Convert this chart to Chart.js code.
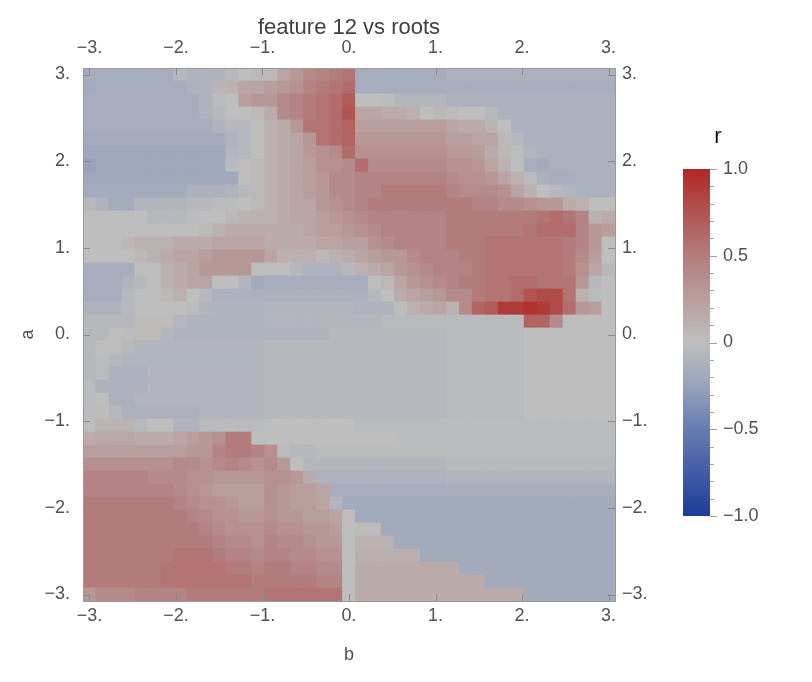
<!DOCTYPE html>
<html><head><meta charset="utf-8">
<script src="https://cdn.jsdelivr.net/npm/chart.js@4.4.1/dist/chart.umd.min.js"></script>
<style>html,body{margin:0;padding:0;background:#fff}#wrap{position:relative;width:812px;height:682px}canvas{display:block}</style>
</head><body><div id="wrap"><canvas id="c" width="812" height="682"></canvas></div>
<script>
// grid centres (b along x, a along y from top to bottom)
const bCenters = [-3,-2.85,-2.7,-2.55,-2.4,-2.25,-2.1,-1.95,-1.8,-1.65,-1.5,-1.35,-1.2,-1.05,-0.9,-0.75,-0.6,-0.45,-0.3,-0.15,0,0.15,0.3,0.45,0.6,0.75,0.9,1.05,1.2,1.35,1.5,1.65,1.8,1.95,2.1,2.25,2.4,2.55,2.7,2.85,3];
const aCenters = [3,2.85,2.7,2.55,2.4,2.25,2.1,1.95,1.8,1.65,1.5,1.35,1.2,1.05,0.9,0.75,0.6,0.45,0.3,0.15,0,-0.15,-0.3,-0.45,-0.6,-0.75,-0.9,-1.05,-1.2,-1.35,-1.5,-1.65,-1.8,-1.95,-2.1,-2.25,-2.4,-2.55,-2.7,-2.85,-3];

// r values, one row per a (top row a = 3), columns b = -3 .. 3
const row00 = [-.15,-.15,-.15,-.15,-.15,-.15,-.15,-.05,-.1,-.1,-.1,-.05,0,.05, .05,.2,.3,.4,.45,.5,.55,-.15,-.15,-.15,-.15,-.15,-.15,-.15, -.12,-.12,-.12,-.12,-.12,-.12,-.12,-.12,-.12,-.12,-.12,-.12,-.12];
const row01 = [-.17,-.15,-.15,-.15,-.15,-.15,-.15,-.15,-.12,-.1,.08,.1,.2,.2, .25,.3,.35,.45,.5,.55,.6,-.15,-.15,-.15,-.15,-.15,-.15,-.15, -.15,-.15,-.15,-.15,-.15,-.15,-.15,-.15,-.15,-.15,-.15,-.15,-.15];
const row02 = [-.15,-.15,-.15,-.15,-.15,-.15,-.15,-.15,-.15,-.1,-.03,0,.25,.3, .3,.4,.45,.5,.55,.6,.7,0,0,-.02,-.07,-.07,-.07,-.07, -.12,-.12,-.12,-.12,-.12,-.12,-.12,-.12,-.12,-.12,-.12,-.12,-.12];
const row03 = [-.15,-.15,-.15,-.15,-.15,-.15,-.15,-.15,-.15,-.1,-.05,0,0,.05, .15,.4,.45,.5,.55,.6,.75,.2,.2,.15,.15,.1,0,.05, .03,0,0,-.05,-.12,-.12,-.12,-.12,-.12,-.12,-.12,-.12,-.12];
const row04 = [-.15,-.15,-.15,-.15,-.15,-.15,-.15,-.15,-.15,-.15,-.1,-.05,-.05,0, .1,.15,.3,.55,.55,.6,.65,.25,.25,.25,.25,.25,.25,.25, .2,.15,.15,.08,0,-.12,-.12,-.12,-.12,-.12,-.12,-.12,-.12];
const row05 = [-.17,-.17,-.17,-.17,-.17,-.17,-.17,-.17,-.17,-.17,-.17,-.1,-.05,0, .1,.15,.2,.3,.55,.6,.65,.3,.3,.3,.3,.3,.3,.3, .25,.25,.2,.2,.05,-.05,-.12,-.12,-.12,-.12,-.12,-.12,-.12];
const row06 = [-.2,-.2,-.2,-.2,-.2,-.2,-.2,-.2,-.2,-.2,-.2,-.07,-.05,0, .1,.15,.2,.3,.35,.4,.6,.35,.35,.35,.35,.35,.35,.35, .3,.3,.25,.15,.05,0,-.08,-.12,-.12,-.12,-.12,-.12,-.12];
const row07 = [-.25,-.2,-.2,-.2,-.2,-.2,-.2,-.2,-.2,-.2,-.2,-.03,0,.05, .1,.15,.2,.25,.35,.35,.4,.6,.4,.4,.4,.4,.4,.4, .35,.35,.3,.2,.1,0,-.15,-.18,-.12,-.12,-.12,-.12,-.12];
const row08 = [-.2,-.2,-.2,-.2,-.2,-.2,-.2,-.2,-.2,-.2,-.2,-.2,0,.05, .1,.15,.2,.25,.3,.4,.4,.45,.45,.45,.45,.45,.45,.45, .4,.35,.35,.3,.2,.1,-.03,-.12,-.15,-.15,-.12,-.12,-.12];
const row09 = [-.17,-.17,-.17,-.17,-.17,-.17,-.17,-.17,-.12,-.12,-.12,-.1,-.05,.05, .1,.15,.2,.25,.3,.4,.4,.45,.45,.5,.5,.5,.5,.5, .45,.4,.4,.4,.35,.2,.1,0,-.05,-.08,-.12,-.12,-.12];
const row10 = [-.05,-.1,-.17,-.17,-.08,-.08,-.08,-.08,-.05,-.05,-.02,-.02,0,.05, .1,.15,.2,.2,.3,.35,.4,.45,.5,.5,.5,.5,.5,.5, .5,.5,.45,.45,.4,.4,.35,.3,.3,.15,.1,0,0];
const row11 = [0,0,0,0,0,-.05,-.05,-.05,-.02,0,0,.05,.08,.1, .1,.15,.2,.2,.25,.3,.35,.4,.45,.45,.45,.45,.45,.45, .5,.5,.5,.5,.5,.5,.5,.55,.6,.55,.45,.1,.15];
const row12 = [0,0,0,0,0,0,0,0,0,.05,.1,.15,.15,.15, .15,.15,.15,.2,.25,.25,.3,.35,.4,.45,.45,.45,.45,.45, .5,.5,.5,.5,.5,.5,.55,.6,.6,.6,.45,.3,.25];
const row13 = [0,0,0,.05,.1,.1,.1,.15,.15,.15,.2,.2,.2,.2, .15,.15,.15,.15,.2,.2,.25,.25,.35,.4,.45,.45,.45,.45, .5,.5,.5,.55,.55,.55,.55,.55,.55,.5,.45,.3,0];
const row14 = [0,0,0,0,.05,.1,.15,.2,.2,.25,.3,.3,.3,.3, .2,.1,.1,.1,.05,.1,.15,.2,.25,.3,.3,.4,.45,.45, .45,.5,.5,.55,.55,.55,.55,.55,.55,.5,.4,.25,0];
const row15 = [-.15,-.15,-.15,-.15,0,0,.1,.15,.2,.3,.3,.3,.3,0, 0,0,-.05,-.1,-.1,-.1,-.05,.1,.15,.2,.3,.35,.4,.45, .45,.45,.5,.55,.55,.55,.55,.55,.55,.5,.35,.2,-.05];
const row16 = [-.15,-.15,-.15,-.1,-.05,0,.1,.15,.2,.2,0,0,-.08,-.18, -.15,-.15,-.15,-.15,-.15,-.15,-.15,-.15,0,.05,.2,.3,.35,.4, .45,.5,.5,.55,.55,.6,.6,.55,.55,.55,.3,-.05,0];
const row17 = [-.15,-.15,-.15,-.05,0,0,.05,.1,0,-.05,-.12,-.12,-.12,-.12, -.12,-.12,-.12,-.12,-.12,-.12,-.12,-.12,-.05,0,.15,.2,.25,.3, .4,.4,.5,.55,.55,.6,.75,.8,.8,.55,.1,-.03,0];
const row18 = [-.1,-.1,-.1,-.05,0,0,0,0,-.03,-.08,-.1,-.1,-.1,-.1, -.08,-.08,-.08,-.08,-.08,-.08,-.08,-.1,-.1,-.1,-.02,.1,.15,.2, .1,.4,.65,.7,.9,.9,.95,.9,.8,.6,.3,.25,0];
const row19 = [-.05,-.05,-.05,-.05,.02,.02,.02,-.05,-.1,-.1,-.1,-.1,-.1,-.1, -.07,-.07,-.07,-.07,-.07,-.07,-.07,-.07,-.07,-.04,-.04,-.04,-.04,-.04, -.04,-.04,-.04,-.04,-.04,-.04,.65,.65,.4,0,0,0,0];
const row20 = [-.05,-.05,0,.02,.02,.02,-.07,-.1,-.1,-.1,-.1,-.1,-.1,-.1, -.1,-.1,-.1,-.1,-.1,-.05,-.05,-.05,-.05,-.05,-.05,-.05,-.05,-.05, -.04,-.04,-.04,-.04,-.04,-.04,0,0,0,0,0,0,0];
const row21 = [-.05,0,0,-.05,-.08,-.08,-.08,-.08,-.08,-.08,-.08,-.08,-.08,-.08, -.05,-.05,-.05,-.05,-.05,-.05,-.05,-.05,-.05,-.05,-.05,-.05,-.05,-.05, -.04,-.04,-.04,-.04,-.04,-.04,0,0,0,0,0,0,0];
const row22 = [-.05,-.02,-.07,-.09,-.09,-.09,-.09,-.09,-.09,-.09,-.09,-.09,-.09,-.09, -.05,-.05,-.05,-.05,-.05,-.05,-.05,-.05,-.05,-.05,-.05,-.05,-.05,-.05, -.04,-.04,-.04,-.04,-.04,-.04,0,0,0,0,0,0,0];
const row23 = [-.05,-.03,-.12,-.12,-.12,-.08,-.08,-.08,-.08,-.08,-.08,-.08,-.08,-.08, -.05,-.05,-.05,-.05,-.05,-.05,-.05,-.05,-.05,-.05,-.05,-.05,-.05,-.05, -.04,-.04,-.04,-.04,-.04,-.04,0,0,0,0,0,0,0];
const row24 = [-.03,-.12,-.12,-.12,-.12,-.08,-.08,-.08,-.08,-.08,-.08,-.08,-.08,-.08, -.05,-.05,-.05,-.05,-.05,-.05,-.05,-.05,-.05,-.05,-.05,-.05,-.05,-.05, -.04,-.04,-.04,-.04,-.04,-.04,0,0,0,0,0,0,0];
const row25 = [-.03,0,-.12,-.12,-.08,-.08,-.08,-.08,-.08,-.08,-.08,-.08,-.08,-.08, -.05,-.05,-.05,-.05,-.05,-.05,-.05,-.05,-.05,-.05,-.05,-.05,-.05,-.05, -.04,-.04,-.04,-.04,-.04,-.04,0,0,0,0,0,0,0];
const row26 = [-.02,.02,-.05,-.12,-.12,-.12,-.12,-.12,-.12,-.08,-.08,-.08,-.08,-.08, -.05,-.05,-.05,-.05,-.05,-.05,-.05,-.05,-.05,-.05,-.05,-.05,-.05,-.05, -.04,-.04,-.04,-.04,-.04,-.04,0,0,0,0,0,0,0];
const row27 = [0,.08,.08,.08,-.05,0,0,-.1,-.1,-.03,-.03,-.03,-.03,-.03, 0,0,0,0,0,0,0,-.03,-.03,-.03,-.03,-.03,-.03,-.03, -.03,-.03,-.03,-.03,-.03,-.03,-.03,-.03,-.03,-.03,-.03,-.03,-.03];
const row28 = [.15,.18,.18,.18,.15,.15,.15,.2,.25,.3,.35,.5,.5,0, 0,0,0,0,0,0,0,0,0,0,-.02,-.02,-.02,-.02, -.03,-.03,-.03,-.03,-.03,-.03,-.03,-.03,-.03,-.03,-.03,-.03,-.03];
const row29 = [.25,.25,.25,.25,.25,.25,.25,.25,.3,.3,.45,.5,.5,.45, .35,-.03,-.05,-.05,-.02,-.02,-.02,-.02,-.02,-.02,-.02,-.02,-.02,-.02, -.03,-.03,-.03,-.03,-.03,-.03,-.03,-.03,-.03,-.03,-.03,-.03,-.03];
const row30 = [.35,.35,.35,.35,.35,.35,.35,.4,.4,.35,.4,.45,.4,.35, .4,.3,0,-.07,-.07,-.07,-.07,-.07,-.07,-.07,-.07,-.07,-.07,-.07, -.05,-.05,-.05,-.05,-.05,-.05,-.05,-.05,-.05,-.05,-.05,-.05,-.05];
const row31 = [.45,.45,.45,.45,.45,.4,.4,.4,.35,.35,.3,.3,.3,.3, .35,.35,.3,.15,-.1,-.1,-.1,-.1,-.1,-.1,-.1,-.1,-.1,-.1, -.08,-.08,-.08,-.08,-.08,-.08,-.08,-.08,-.08,-.08,-.08,-.08,-.08];
const row32 = [.45,.45,.45,.45,.45,.45,.45,.4,.35,.3,.25,.25,.25,.25, .35,.3,.25,.25,.2,-.15,-.15,-.15,-.15,-.15,-.15,-.15,-.15,-.15, -.14,-.14,-.14,-.14,-.14,-.14,-.14,-.14,-.14,-.14,-.14,-.14,-.14];
const row33 = [.5,.5,.5,.5,.5,.5,.5,.45,.4,.35,.35,.3,.25,.25, .35,.3,.25,.25,.2,-.08,-.18,-.18,-.18,-.18,-.18,-.18,-.18,-.18, -.18,-.18,-.18,-.18,-.18,-.18,-.18,-.18,-.18,-.18,-.18,-.18,-.18];
const row34 = [.5,.5,.5,.5,.5,.5,.5,.5,.45,.4,.35,.35,.3,.3, .35,.3,.3,.25,.25,.2,0,-.18,-.18,-.18,-.18,-.18,-.18,-.18, -.18,-.18,-.18,-.18,-.18,-.18,-.18,-.18,-.18,-.18,-.18,-.18,-.18];
const row35 = [.5,.5,.5,.5,.5,.5,.5,.5,.5,.45,.4,.35,.35,.35, .4,.35,.35,.3,.3,.25,0,.03,.03,-.18,-.18,-.18,-.18,-.18, -.18,-.18,-.18,-.18,-.18,-.18,-.18,-.18,-.18,-.18,-.18,-.18,-.18];
const row36 = [.5,.5,.5,.5,.5,.5,.5,.5,.5,.5,.45,.4,.4,.35, .45,.4,.4,.35,.3,.3,0,.1,.1,.1,-.18,-.18,-.18,-.18, -.18,-.18,-.18,-.18,-.18,-.18,-.18,-.18,-.18,-.18,-.18,-.18,-.18];
const row37 = [.5,.5,.5,.5,.5,.5,.5,.55,.55,.55,.5,.45,.45,.4, .45,.45,.4,.4,.35,.35,0,.12,.12,.12,.12,.12,-.18,-.18, -.18,-.18,-.18,-.18,-.18,-.18,-.18,-.18,-.18,-.18,-.18,-.18,-.18];
const row38 = [.5,.5,.5,.5,.5,.5,.55,.55,.55,.55,.55,.5,.5,.45, .5,.5,.45,.45,.4,.4,0,.15,.15,.15,.15,.15,.15,.15, .15,-.18,-.18,-.18,-.18,-.18,-.18,-.18,-.18,-.18,-.18,-.18,-.18];
const row39 = [.5,.5,.5,.5,.5,.5,.55,.55,.55,.55,.55,.55,.55,.5, .5,.5,.5,.5,.45,.45,0,.15,.15,.15,.15,.15,.15,.15, .15,.15,.15,-.18,-.18,-.18,-.18,-.18,-.18,-.18,-.18,-.18,-.18];
const row40 = [.3,.4,.4,.4,.45,.45,.45,.45,.5,.5,.5,.5,.5,.5, .55,.55,.55,.55,.55,.55,0,.15,.15,.15,.15,.15,.15,.15, .15,.15,.15,.15,.15,.15,-.18,-.18,-.18,-.18,-.18,-.18,-.18];

const rows = [row00,row01,row02,row03,row04,row05,row06,row07,row08,row09,row10,row11,row12,row13,row14,row15,row16,row17,row18,row19,row20,row21,row22,row23,row24,row25,row26,row27,row28,row29,row30,row31,row32,row33,row34,row35,row36,row37,row38,row39,row40];

const tickValues = [-3,-2,-1,0,1,2,3];
const tickLabels = ['\u22123.','\u22122.','\u22121.','0.','1.','2.','3.'];
const cbTicks = [1,0.5,0,-0.5,-1];
const cbLabels = ['1.0','0.5','0','\u22120.5','\u22121.0'];
const cbMinor = [-0.9,-0.8,-0.7,-0.6,-0.4,-0.3,-0.2,-0.1,0.1,0.2,0.3,0.4,0.6,0.7,0.8,0.9];

// colour scale (value -> rgb)
const cmapStops = [[-1,[30,60,155]],[-0.5,[102,124,176]],[-0.25,[152,162,187]],[0,[190,190,190]],[0.25,[185,158,158]],[0.5,[179,124,124]],[0.75,[177,84,82]],[1,[176,40,38]]];
function colorFor(v){
  const s = cmapStops;
  if (v <= s[0][0]) return 'rgb('+s[0][1].join(',')+')';
  for (let k=1;k<s.length;k++){
    if (v <= s[k][0]){
      const t=(v-s[k-1][0])/(s[k][0]-s[k-1][0]); const a=s[k-1][1], b=s[k][1];
      return 'rgb('+[0,1,2].map(i=>Math.round(a[i]+(b[i]-a[i])*t)).join(',')+')';
    }
  }
  return 'rgb('+s[s.length-1][1].join(',')+')';
}

const FONT = "'Liberation Sans', Arial, Helvetica, sans-serif";
const TICKCOL = '#505050';

const points = [], colors = [];
rows.forEach((row,j)=>row.forEach((v,i)=>{ points.push({x:bCenters[i], y:aCenters[j], v:v}); colors.push(colorFor(v)); }));

function cellRadius(ctx){
  const xs = ctx.chart.scales.x;
  const px = Math.abs(xs.getPixelForValue(0.15) - xs.getPixelForValue(0));
  return (px + 0.8) / Math.SQRT2;
}

const tickFont = {family: FONT, size: 18};
function labelCb(v){ const k = tickValues.indexOf(v); return k>=0 ? tickLabels[k] : ''; }
function setTicks(scale){ scale.ticks = tickValues.map(v=>({value:v})); }
const baseAxis = {type:'linear', min:-3.075, max:3.075, afterBuildTicks:setTicks,
  ticks:{callback:labelCb, font:tickFont, color:TICKCOL, autoSkip:false, maxRotation:0},
  grid:{display:false, drawTicks:false}, border:{display:true, color:'#9a9a9a', width:1, z:2}};

const framePlugin = {
  id:'frameTicks',
  afterDraw(chart){
    const c = chart.ctx, A = chart.chartArea, sc = chart.scales;
    c.save();
    c.strokeStyle = '#8a8a8a'; c.lineWidth = 1;
    c.beginPath();
    tickValues.forEach(v=>{
      const px = Math.round(sc.x.getPixelForValue(v)) + 0.5;
      c.moveTo(px, A.bottom); c.lineTo(px, A.bottom-7);
      c.moveTo(px, A.top); c.lineTo(px, A.top+7);
      const py = Math.round(sc.y.getPixelForValue(v)) + 0.5;
      c.moveTo(A.left, py); c.lineTo(A.left+7, py);
      c.moveTo(A.right, py); c.lineTo(A.right-7, py);
    });
    c.stroke();
    // colour bar legend
    const x0 = 683, x1 = 710, yT = 169, yB = 516;
    const g = c.createLinearGradient(0, yB, 0, yT);
    for (let k=0;k<=40;k++){ const v = -1 + k*0.05; g.addColorStop(k/40, colorFor(v)); }
    c.fillStyle = g; c.fillRect(x0, yT, x1-x0, yB-yT);
    const yOf = v => yB - (v+1)/2*(yB-yT);
    c.strokeStyle = '#a0a0a0'; c.lineWidth = 1; c.beginPath();
    cbTicks.forEach(v=>{ const y=Math.round(yOf(v))+0.5; c.moveTo(x1,y); c.lineTo(x1+7,y); });
    cbMinor.forEach(v=>{ const y=Math.round(yOf(v))+0.5; c.moveTo(x1,y); c.lineTo(x1+4,y); });
    c.stroke();
    c.fillStyle = TICKCOL; c.font = '18px ' + FONT; c.textAlign='left'; c.textBaseline='middle';
    cbTicks.forEach((v,k)=> c.fillText(cbLabels[k], 723, yOf(v)));
    c.fillStyle = '#111'; c.font = '22px ' + FONT; c.textAlign='center';
    c.fillText('r', 718, 137);
    c.restore();
  }
};

new Chart(document.getElementById('c'), {
  type:'scatter',
  data:{datasets:[{data:points, pointStyle:'rect', pointRadius:cellRadius, pointHoverRadius:cellRadius,
    pointBackgroundColor:colors, pointHoverBackgroundColor:colors, pointBorderWidth:0, pointHoverBorderWidth:0, showLine:false}]},
  options:{
    responsive:false, animation:false, events:[],
    layout:{padding:0},
    plugins:{legend:{display:false}, tooltip:{enabled:false}, title:{display:false}},
    scales:{
      x:Object.assign({}, baseAxis, {position:'bottom', ticks:Object.assign({}, baseAxis.ticks, {padding:4}),
        title:{display:true, text:'b', color:TICKCOL, font:{family:FONT, size:18}, padding:{top:0, bottom:16}},
        afterFit:s=>{ s.height = 81; }}),
      x2:Object.assign({}, baseAxis, {position:'top', ticks:Object.assign({}, baseAxis.ticks, {padding:9}),
        title:{display:true, text:'feature 12 vs roots', color:'#404040', font:{family:FONT, size:22}, padding:{top:15, bottom:0}},
        afterFit:s=>{ s.height = 68; }}),
      y:Object.assign({}, baseAxis, {position:'left', ticks:Object.assign({}, baseAxis.ticks, {padding:13}),
        title:{display:true, text:'a', color:TICKCOL, font:{family:FONT, size:18}, padding:{top:17, bottom:0}},
        afterFit:s=>{ s.width = 83; }}),
      y2:Object.assign({}, baseAxis, {position:'right', ticks:Object.assign({}, baseAxis.ticks, {padding:7}),
        afterFit:s=>{ s.width = 197; }})
    }
  },
  plugins:[framePlugin]
});

const bad = rows.map((r,j)=>r.length!==41 ? ('row'+j+':'+r.length) : null).filter(Boolean);
if (bad.length) throw new Error('bad row lengths ' + bad.join(' '));
</script></body></html>
